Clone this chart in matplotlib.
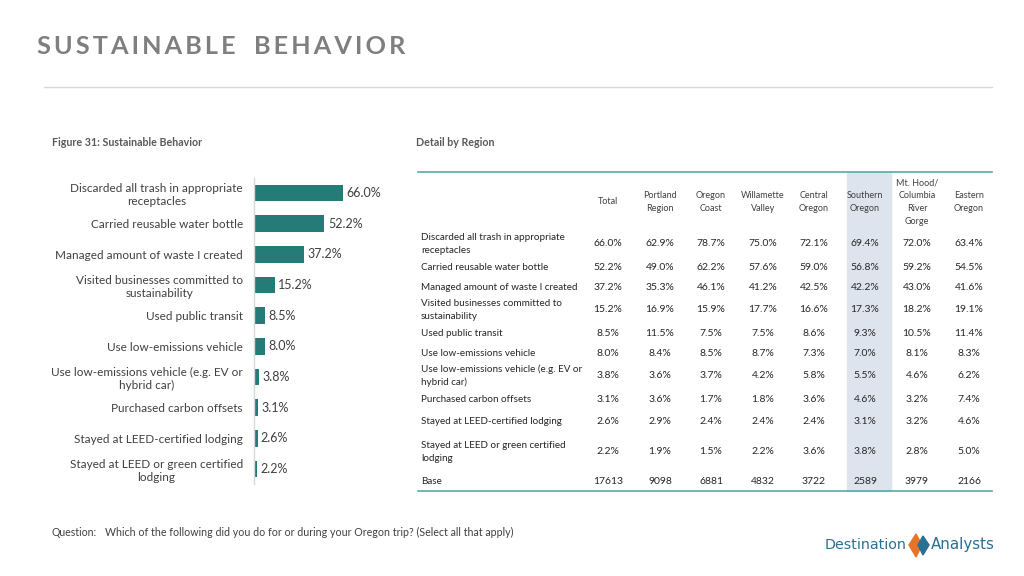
import matplotlib
matplotlib.use("Agg")
import matplotlib.pyplot as plt
from matplotlib.patches import Rectangle, Polygon
import numpy as np

plt.rcParams['font.family'] = ['Lato', 'DejaVu Sans']

# ---- data ----
behaviors = ["Discarded all trash in appropriate\nreceptacles",
             "Carried reusable water bottle",
             "Managed amount of waste I created",
             "Visited businesses committed to\nsustainability",
             "Used public transit",
             "Use low-emissions vehicle",
             "Use low-emissions vehicle (e.g. EV or\nhybrid car)",
             "Purchased carbon offsets",
             "Stayed at LEED-certified lodging",
             "Stayed at LEED or green certified\nlodging"]
total_pct = [66.0, 52.2, 37.2, 15.2, 8.5, 8.0, 3.8, 3.1, 2.6, 2.2]

regions = ["Total", "Portland\nRegion", "Oregon\nCoast", "Willamette\nValley",
           "Central\nOregon", "Southern\nOregon", "Mt. Hood/\nColumbia\nRiver\nGorge",
           "Eastern\nOregon"]
table_rows = ["Discarded all trash in appropriate\nreceptacles",
              "Carried reusable water bottle",
              "Managed amount of waste I created",
              "Visited businesses committed to\nsustainability",
              "Used public transit",
              "Use low-emissions vehicle",
              "Use low-emissions vehicle (e.g. EV or\nhybrid car)",
              "Purchased carbon offsets",
              "Stayed at LEED-certified lodging",
              "Stayed at LEED or green certified\nlodging"]
region_pct = [
    [66.0, 62.9, 78.7, 75.0, 72.1, 69.4, 72.0, 63.4],
    [52.2, 49.0, 62.2, 57.6, 59.0, 56.8, 59.2, 54.5],
    [37.2, 35.3, 46.1, 41.2, 42.5, 42.2, 43.0, 41.6],
    [15.2, 16.9, 15.9, 17.7, 16.6, 17.3, 18.2, 19.1],
    [8.5, 11.5, 7.5, 7.5, 8.6, 9.3, 10.5, 11.4],
    [8.0, 8.4, 8.5, 8.7, 7.3, 7.0, 8.1, 8.3],
    [3.8, 3.6, 3.7, 4.2, 5.8, 5.5, 4.6, 6.2],
    [3.1, 3.6, 1.7, 1.8, 3.6, 4.6, 3.2, 7.4],
    [2.6, 2.9, 2.4, 2.4, 2.4, 3.1, 3.2, 4.6],
    [2.2, 1.9, 1.5, 2.2, 3.6, 3.8, 2.8, 5.0],
]
base_n = [17613, 9098, 6881, 4832, 3722, 2589, 3979, 2166]

W, H = 1024, 576
TEAL = "#247b77"
GRAY = "#595959"

fig = plt.figure(figsize=(W / 100, H / 100), dpi=100)


def fx(x):
    return x / W


def fy(y):
    return 1 - y / H


# ---- header ----
title = "SUSTAINABLE BEHAVIOR"
spaced = "   ".join("\u2009".join(list(w)) for w in title.split(" "))
fig.text(fx(37), fy(47), spaced, fontsize=18.2, fontweight="bold", color="#7f7f7f",
         va="center", ha="left")
fig.add_artist(plt.Line2D([fx(44), fx(992)], [fy(87), fy(87)], color="#d9d9d9", lw=1))
fig.text(fx(52), fy(143), "Figure 31: Sustainable Behavior", fontsize=7.7, fontweight="bold",
         color=GRAY, va="center")
fig.text(fx(416), fy(143), "Detail by Region", fontsize=7.7, fontweight="bold",
         color=GRAY, va="center")

# ---- bar chart ----
row_h = 30.67
top = 193 - row_h / 2
ax = fig.add_axes([fx(254), fy(top + row_h * 10), 135 / W, row_h * 10 / H])
y = np.arange(len(total_pct))
ax.barh(y, total_pct, height=0.55, color=TEAL)
ax.set_xlim(0, 100)
ax.set_ylim(len(total_pct) - 0.5, -0.5)
for i, v in enumerate(total_pct):
    ax.text(v + 2.5, i, f"{v:.1f}%", va="center", ha="left", fontsize=9, color="#404040")
ax.set_yticks(y)
ax.set_yticklabels(behaviors, fontsize=8.5, color="#404040", multialignment="center")
ax.tick_params(axis="y", length=0, pad=8)
ax.set_xticks([])
for s in ["top", "right", "bottom"]:
    ax.spines[s].set_visible(False)
ax.spines["left"].set_color("#d9d9d9")
ax.spines["left"].set_linewidth(1)
ax.patch.set_alpha(0)

# ---- region table ----
col_x = [608, 660, 711, 763, 814, 865, 917, 969]
row_y = [244, 267, 287, 310, 333, 353, 376, 399, 421, 452]
base_y = 482

fig.patches.append(Rectangle((fx(847), fy(491)), 44 / W, (491 - 172) / H,
                             transform=fig.transFigure, color="#dde4ee", zorder=0))
for ly in (172, 491):
    fig.add_artist(plt.Line2D([fx(418), fx(992)], [fy(ly), fy(ly)], color="#5aa8a8", lw=1.2))

for cx, name in zip(col_x, regions):
    fig.text(fx(cx), fy(202), name, fontsize=6.5, color="#404040", ha="center", va="center",
             linespacing=1.55)

for ry, label, vals in zip(row_y, table_rows, region_pct):
    fig.text(fx(421), fy(ry), label, fontsize=7.1, color="#262626", ha="left", va="center",
             linespacing=1.45)
    for cx, v in zip(col_x, vals):
        fig.text(fx(cx), fy(ry), f"{v:.1f}%", fontsize=7.5, color="#262626",
                 ha="center", va="center")

fig.text(fx(421), fy(base_y), "Base", fontsize=7.1, color="#262626", ha="left", va="center")
for cx, n in zip(col_x, base_n):
    fig.text(fx(cx), fy(base_y), str(n), fontsize=7.5, color="#262626", ha="center", va="center")

# ---- footer ----
fig.text(fx(52), fy(532), "Question:", fontsize=7.6, color="#404040", va="center")
fig.text(fx(105), fy(532),
         "Which of the following did you do for or during your Oregon trip? (Select all that apply)",
         fontsize=7.7, color="#404040", va="center")

# logo
fig.text(fx(907), fy(545), "Destination", fontsize=10.3, color="#2b6f93", ha="right",
         va="center", family="DejaVu Sans")
fig.text(fx(931), fy(545), "Analysts", fontsize=10.8, color="#2b6f93", ha="left",
         va="center", family="DejaVu Sans")
fig.add_artist(Polygon([(fx(916), fy(534)), (fx(922), fy(545)), (fx(916), fy(557)),
                        (fx(909), fy(545))], closed=True, transform=fig.transFigure,
                       color="#e8742a"))
fig.add_artist(Polygon([(fx(923), fy(536)), (fx(929), fy(545)), (fx(923), fy(555)),
                        (fx(918), fy(545))], closed=True, transform=fig.transFigure,
                       color="#2b6f93"))

fig.savefig("out.png", dpi=100, facecolor="white")
